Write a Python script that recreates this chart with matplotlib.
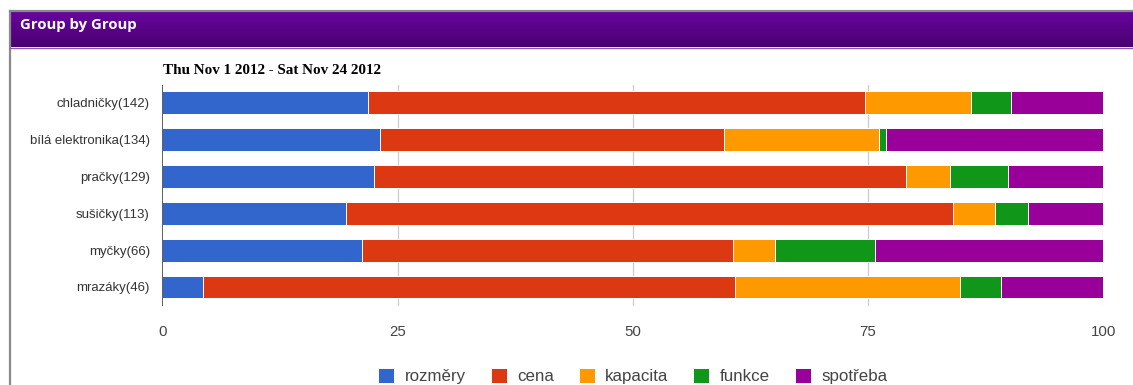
import numpy as np
import matplotlib
matplotlib.use("Agg")
import matplotlib.pyplot as plt
from matplotlib.lines import Line2D

# Response counts per product group and criterion
groups = ["chladničky", "bílá elektronika", "pračky", "sušičky", "myčky", "mrazáky"]
totals = [142, 134, 129, 113, 66, 46]
series_names = ["rozměry", "cena", "kapacita", "funkce", "spotřeba"]
rozmery = [31, 31, 29, 22, 14, 2]
cena = [75, 49, 73, 73, 26, 26]
kapacita = [16, 22, 6, 5, 3, 11]
funkce = [6, 1, 8, 4, 7, 2]
spotreba = [14, 31, 13, 9, 16, 5]
colors = ["#3366CC", "#DC3912", "#FF9900", "#109618", "#990099"]
x_ticks = [0, 25, 50, 75, 100]
header_title = "Group by Group"
date_range = "Thu Nov 1 2012 - Sat Nov 24 2012"

W, H = 1133, 385
fig = plt.figure(figsize=(W / 100, H / 100), dpi=100)

# Panel frame: top and left border
fig.add_artist(Line2D([9.5 / W, 1], [1 - 10.5 / H, 1 - 10.5 / H], color="#8a8a8a", lw=1.6))
fig.add_artist(Line2D([9.5 / W, 9.5 / W], [0, 1 - 10.5 / H], color="#8a8a8a", lw=1.6))

# Purple gradient header bar
hax = fig.add_axes([10.5 / W, 1 - 47 / H, 1 - 10.5 / W, 35.5 / H])
grad = np.linspace(0, 1, 64).reshape(-1, 1)
top = np.array(matplotlib.colors.to_rgb("#68049f"))
bot = np.array(matplotlib.colors.to_rgb("#4a0170"))
img = top + (bot - top) * grad[..., None]
hax.imshow(img, aspect="auto", extent=[0, 1, 0, 1])
hax.set_xlim(0, 1)
hax.set_ylim(0, 1)
hax.axis("off")
fig.add_artist(Line2D([10.5 / W, 1], [1 - 47.5 / H, 1 - 47.5 / H], color="#8a5aa8", lw=1.0))
fig.text(20 / W, 1 - 24.5 / H, header_title, color="white", fontsize=10.7,
         fontweight="bold", family="Open Sans", va="center", ha="left")

# Stacked percentage bars
ax = fig.add_axes([162.3 / W, 1 - 306 / H, (1103.3 - 162.3) / W, (306 - 85) / H])
data = np.array([rozmery, cena, kapacita, funkce, spotreba], dtype=float)
pct = data / np.array(totals, dtype=float) * 100
y = np.arange(len(groups))
left = np.zeros(len(groups))
handles = []
for name, vals, col in zip(series_names, pct, colors):
    b = ax.barh(y, vals, left=left, height=0.62, color=col, edgecolor="white",
                linewidth=0.7, label=name, zorder=3)
    handles.append(b)
    left += vals

for t in x_ticks[1:]:
    ax.axvline(t, color="#cccccc", lw=0.9, zorder=1)
ax.axvline(0, color="#333333", lw=1.1, zorder=4)

ax.set_xlim(0, 100)
ax.set_ylim(5.515, -0.474)
ax.set_yticks(y)
ax.set_yticklabels([f"{g}({n})" for g, n in zip(groups, totals)],
                   fontsize=9.5, color="#333333", family="Liberation Sans")
ax.set_xticks(x_ticks)
ax.set_xticklabels([str(t) for t in x_ticks], fontsize=10.8, color="#444444",
                   family="Liberation Sans")
ax.tick_params(axis="both", length=0)
ax.tick_params(axis="x", pad=14)
ax.tick_params(axis="y", pad=9)
for s in ax.spines.values():
    s.set_visible(False)

fig.text(163 / W, 1 - 71 / H, date_range, fontsize=10.9, fontweight="bold",
         family="Liberation Serif", va="center", ha="left")

leg = ax.legend(handles=handles, loc="center", bbox_to_anchor=(0.5, (306 - 376) / (306 - 85)),
                ncol=5, frameon=False, handlelength=0.95, handleheight=0.95,
                handletextpad=0.62, columnspacing=1.45,
                prop={"family": "Liberation Sans", "size": 12.2})
for t in leg.get_texts():
    t.set_color("#444444")

fig.savefig("out.png", dpi=100)
